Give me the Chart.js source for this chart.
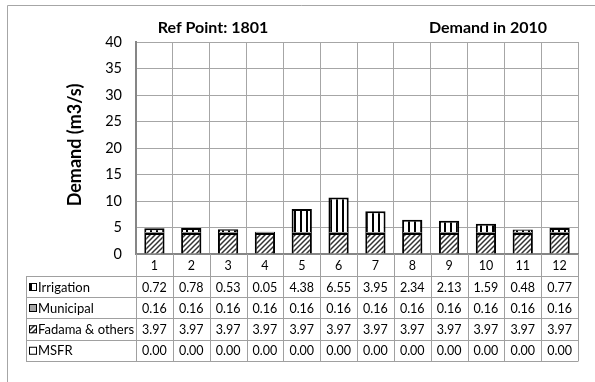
<!DOCTYPE html>
<html lang="en">
<head>
  <meta charset="UTF-8" />
  <title>Ref Point 1801 - Demand in 2010</title>
  <script src="https://cdn.jsdelivr.net/npm/chart.js"></script>
  <style>
    html, body { margin: 0; padding: 0; background: #fff; }
    #wrap { width: 595px; height: 382px; }
  </style>
</head>
<body>
  <div id="wrap"><canvas id="demandChart" width="595" height="382"></canvas></div>
  <script>
    // data
    const months = ["1", "2", "3", "4", "5", "6", "7", "8", "9", "10", "11", "12"];
    const irrigation = [0.72, 0.78, 0.53, 0.05, 4.38, 6.55, 3.95, 2.34, 2.13, 1.59, 0.48, 0.77];
    const municipal = [0.16, 0.16, 0.16, 0.16, 0.16, 0.16, 0.16, 0.16, 0.16, 0.16, 0.16, 0.16];
    const fadama = [3.97, 3.97, 3.97, 3.97, 3.97, 3.97, 3.97, 3.97, 3.97, 3.97, 3.97, 3.97];
    const msfr = [0, 0, 0, 0, 0, 0, 0, 0, 0, 0, 0, 0];
    const yTicks = [0, 5, 10, 15, 20, 25, 30, 35, 40];

    const FONT = "Lato, 'Open Sans', sans-serif";

    // fill patterns
    function stripePattern() {
      const c = document.createElement("canvas");
      c.width = 6; c.height = 6;
      const g = c.getContext("2d");
      g.fillStyle = "#fff"; g.fillRect(0, 0, 6, 6);
      g.fillStyle = "#000"; g.fillRect(0, 0, 2, 6);
      return g.createPattern(c, "repeat");
    }
    function hatchPattern() {
      const c = document.createElement("canvas");
      c.width = 5; c.height = 5;
      const g = c.getContext("2d");
      g.fillStyle = "#fff"; g.fillRect(0, 0, 5, 5);
      g.strokeStyle = "#333"; g.lineWidth = 1.5;
      g.beginPath();
      g.moveTo(-1, 6); g.lineTo(6, -1);
      g.moveTo(-1, 1); g.lineTo(1, -1);
      g.moveTo(4, 6); g.lineTo(6, 4);
      g.stroke();
      return g.createPattern(c, "repeat");
    }
    const stripes = stripePattern();
    const hatch = hatchPattern();

    const rows = [
      { label: "Irrigation", values: irrigation, fill: stripes },
      { label: "Municipal", values: municipal, fill: "#a6a6a6" },
      { label: "Fadama & others", values: fadama, fill: hatch },
      { label: "MSFR", values: msfr, fill: "#fff" }
    ];

    // titles, frame and the data table under the plot
    const tablePlugin = {
      id: "tablePlugin",
      afterDraw(chart) {
        const ctx = chart.ctx;
        const x = chart.scales.x;
        const area = chart.chartArea;
        const colW = (area.right - area.left) / months.length;
        const rowTop = [area.bottom, 276, 297, 318, 339.5, 361];
        const tableLeft = 26;

        ctx.save();
        // outer frame
        ctx.strokeStyle = "#a6a6a6";
        ctx.lineWidth = 1;
        ctx.beginPath();
        ctx.moveTo(7.5, 400); ctx.lineTo(7.5, 5.5); ctx.lineTo(600, 5.5);
        ctx.stroke();

        // titles
        ctx.fillStyle = "#000";
        ctx.font = "bold 16px " + FONT;
        ctx.textAlign = "center";
        ctx.textBaseline = "middle";
        ctx.fillText("Ref Point: 1801", 213, 28);
        ctx.fillText("Demand in 2010", 488, 28);

        ctx.save();
        ctx.translate(75, 145);
        ctx.rotate(-Math.PI / 2);
        ctx.font = "bold 18px " + FONT;
        ctx.fillText("Demand (m3/s)", 0, 0);
        ctx.restore();

        // table grid
        ctx.strokeStyle = "#a0a0a0";
        ctx.lineWidth = 1;
        ctx.beginPath();
        for (let r = 1; r < rowTop.length; r++) {
          const y = Math.round(rowTop[r]) + 0.5;
          ctx.moveTo(tableLeft, y); ctx.lineTo(area.right, y);
        }
        const yStart = Math.round(rowTop[0]);
        const yEnd = Math.round(rowTop[rowTop.length - 1]) + 0.5;
        for (let i = 0; i <= months.length; i++) {
          const xx = Math.round(area.left + i * colW) + 0.5;
          ctx.moveTo(xx, yStart); ctx.lineTo(xx, yEnd);
        }
        ctx.moveTo(tableLeft + 0.5, Math.round(rowTop[1]) + 0.5);
        ctx.lineTo(tableLeft + 0.5, yEnd);
        ctx.stroke();

        // header (month numbers)
        ctx.fillStyle = "#000";
        ctx.font = "12.5px " + FONT;
        ctx.textAlign = "center";
        months.forEach((m, i) => {
          ctx.fillText(m, x.getPixelForValue(i), (rowTop[0] + rowTop[1]) / 2 + 1);
        });

        // rows
        rows.forEach((row, r) => {
          const cy = (rowTop[r + 1] + rowTop[r + 2]) / 2 + 1;
          // legend swatch
          ctx.fillStyle = row.fill;
          ctx.fillRect(29, cy - 4.5, 8, 8);
          ctx.strokeStyle = "#000";
          ctx.lineWidth = 1;
          ctx.strokeRect(29.5, cy - 4, 7, 7);
          ctx.fillStyle = "#000";
          ctx.textAlign = "left";
          ctx.font = "13px " + FONT;
          ctx.fillText(row.label, 38, cy);
          ctx.textAlign = "center";
          ctx.font = "12.5px " + FONT;
          row.values.forEach((v, i) => {
            ctx.fillText(v.toFixed(2), x.getPixelForValue(i), cy);
          });
        });
        ctx.restore();
      }
    };

    new Chart(document.getElementById("demandChart"), {
      type: "bar",
      data: {
        labels: months,
        datasets: [
          { label: "MSFR", data: msfr, backgroundColor: "#fff", borderColor: "#000", borderWidth: 0 },
          { label: "Fadama & others", data: fadama, backgroundColor: hatch, borderColor: "#000", borderWidth: 2 },
          { label: "Municipal", data: municipal, backgroundColor: "#a6a6a6", borderColor: "#000", borderWidth: 1 },
          { label: "Irrigation", data: irrigation, backgroundColor: stripes, borderColor: "#000", borderWidth: 2 }
        ]
      },
      options: {
        responsive: false,
        animation: false,
        layout: { padding: { left: 0, top: 42, right: 17, bottom: 128 } },
        datasets: { bar: { categoryPercentage: 0.55, barPercentage: 1 } },
        plugins: { legend: { display: false }, tooltip: { enabled: false } },
        scales: {
          x: {
            stacked: true,
            ticks: { display: false },
            grid: { color: "#a6a6a6", drawTicks: false, offset: true },
            border: { color: "#868686", width: 2 },
            afterFit(scale) { scale.height = 0; }
          },
          y: {
            stacked: true,
            min: 0,
            max: 40,
            afterBuildTicks(scale) { scale.ticks = yTicks.map(v => ({ value: v })); },
            ticks: { padding: 14, color: "#000", font: { family: FONT, size: 14.5 } },
            grid: { color: "#a6a6a6", drawTicks: false },
            border: { color: "#868686", width: 2 },
            afterFit(scale) { scale.width = 136; }
          }
        }
      },
      plugins: [tablePlugin]
    });
  </script>
</body>
</html>
